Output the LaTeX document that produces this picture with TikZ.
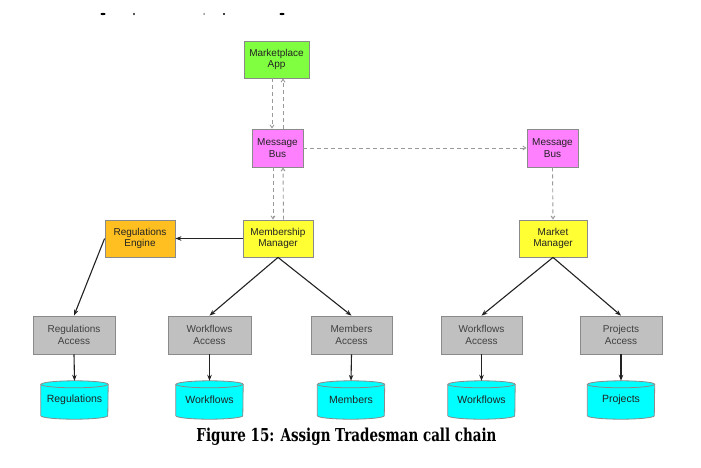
\documentclass[tikz,border=0pt]{standalone}
\usepackage{fontspec}
\setmainfont{Liberation Sans}
\newfontfamily\capfont{DejaVu Serif}
\usetikzlibrary{arrows.meta,backgrounds}
\definecolor{bordergray}{HTML}{8A8A8A}
\definecolor{txt}{HTML}{222222}
\definecolor{cgreen}{HTML}{80FF40}
\definecolor{cpink}{HTML}{FF80FF}
\definecolor{corange}{HTML}{FFBF20}
\definecolor{cyellow}{HTML}{FFFF33}
\definecolor{cgray}{HTML}{C0C0C0}
\definecolor{ccyan}{HTML}{00FFFF}
\definecolor{dashgray}{HTML}{999999}
\tikzset{
  box/.style={draw=bordergray, line width=0.8pt, rectangle, align=center,
    inner sep=0pt, font=\fontsize{10}{11.5}\selectfont, text=txt},
  dbnode/.style={rectangle, inner sep=0pt, align=center, minimum width=67pt,
    minimum height=38pt, font=\fontsize{10.5}{12}\selectfont, text=txt},
  solidarrow/.style={draw=txt, line width=1.1pt, -{Stealth[length=6pt,width=4.5pt]}},
  dasharrow/.style={draw=dashgray, line width=0.9pt, dash pattern=on 4pt off 3pt,
    -{Straight Barb[length=3pt,width=4pt]}},
  cylbody/.style={fill=ccyan, draw=bordergray, line width=0.8pt},
}
\begin{document}
\begin{tikzpicture}[x=1pt,y=1pt]
\useasboundingbox (0,0) rectangle (701,467);
% top residual marks
\fill[black] (103,453) ellipse[x radius=2.5, y radius=1.1];
\fill[black] (134,453) ellipse[x radius=0.8, y radius=1.4];
\fill[black] (204,453) ellipse[x radius=0.5, y radius=1];
\fill[black] (224,453) ellipse[x radius=1, y radius=1.1];
\fill[black] (282,453) ellipse[x radius=2.5, y radius=1.1];

% upper nodes
\node[box, fill=cgreen, minimum width=65pt, minimum height=37pt] (MA) at (276.5,407.5) {Marketplace\\App};
\node[box, fill=cpink, minimum width=51pt, minimum height=38pt] (MB1) at (277.5,319) {Message\\Bus};
\node[box, fill=cpink, minimum width=51pt, minimum height=38pt] (MB2) at (552.5,319) {Message\\Bus};
\node[box, fill=cyellow, minimum width=70pt, minimum height=37pt] (MM) at (278,228.5) {Membership\\Manager};
\node[box, fill=corange, minimum width=70pt, minimum height=37pt] (RE) at (140,228.5) {Regulations\\Engine};
\node[box, fill=cyellow, minimum width=68pt, minimum height=37pt] (MK) at (553,228.5) {Market\\Manager};

% access nodes
\node[box, fill=cgray, minimum width=82pt, minimum height=38pt, text=black!75] (RA) at (74,132) {Regulations\\Access};
\node[box, fill=cgray, minimum width=83pt, minimum height=38pt, text=black!75] (WA1) at (209.5,132) {Workflows\\Access};
\node[box, fill=cgray, minimum width=81pt, minimum height=38pt, text=black!75] (MeA) at (351.5,132) {Members\\Access};
\node[box, fill=cgray, minimum width=81pt, minimum height=38pt, text=black!75] (WA2) at (481.5,132) {Workflows\\Access};
\node[box, fill=cgray, minimum width=82pt, minimum height=38pt, text=black!75] (PA) at (621,132) {Projects\\Access};

% databases
\node[dbnode] (D1) at (74.5,67) {\raisebox{-2pt}{Regulations}};
\node[dbnode] (D2) at (209.5,67) {\raisebox{-2pt}{Workflows}};
\node[dbnode] (D3) at (351,67) {\raisebox{-2pt}{Members}};
\node[dbnode] (D4) at (481.5,67) {\raisebox{-2pt}{Workflows}};
\node[dbnode] (D5) at (621,67) {\raisebox{-2pt}{Projects}};
\begin{pgfonlayer}{background}
\foreach \n in {D1,D2,D3,D4,D5}{
  \path[cylbody] ([yshift=-3.5pt]\n.north west) -- ([yshift=3.5pt]\n.south west)
    arc[start angle=180, end angle=360, x radius=33.5pt, y radius=3.5pt]
    -- ([yshift=-3.5pt]\n.north east)
    arc[start angle=0, end angle=180, x radius=33.5pt, y radius=3.5pt] -- cycle;
  \draw[draw=bordergray, line width=0.8pt] ([yshift=-3.5pt]\n.north west)
    arc[start angle=180, end angle=360, x radius=33.5pt, y radius=3.5pt];
}
\end{pgfonlayer}

% dashed message flows
\draw[dasharrow] ([xshift=-4.5pt]MA.south) -- ([xshift=-5.5pt]MB1.north);
\draw[dasharrow] ([xshift=5.5pt]MB1.north) -- ([xshift=6.5pt]MA.south);
\draw[dasharrow] ([xshift=-4.5pt]MB1.south) -- ([xshift=-5pt]MM.north);
\draw[dasharrow] ([xshift=5.5pt]MM.north) -- ([xshift=5.5pt]MB1.south);
\draw[dasharrow] (MB1.east) -- (MB2.west);
\draw[dasharrow] (MB2.south) -- (MK.north);

% solid calls
\draw[solidarrow] (MM.west) -- (RE.east);
\draw[solidarrow] (RE.west) -- (RA.north);
\draw[solidarrow] (MM.south) -- (WA1.north);
\draw[solidarrow] (MM.south) -- (MeA.north);
\draw[solidarrow] (MK.south) -- (WA2.north);
\draw[solidarrow] (MK.south) -- (PA.north);
\draw[solidarrow] (RA.south) -- (D1.north);
\draw[solidarrow] (WA1.south) -- (D2.north);
\draw[solidarrow] (MeA.south) -- (D3.north);
\draw[solidarrow] (WA2.south) -- (D4.north);
\draw[solidarrow] (PA.south) -- (D5.north);

% caption
\node[inner sep=0pt, anchor=base] (cap) at (346.5,26) {\resizebox{300pt}{13.5pt}{\capfont\bfseries Figure 15: Assign Tradesman call chain}};
\end{tikzpicture}
\end{document}
